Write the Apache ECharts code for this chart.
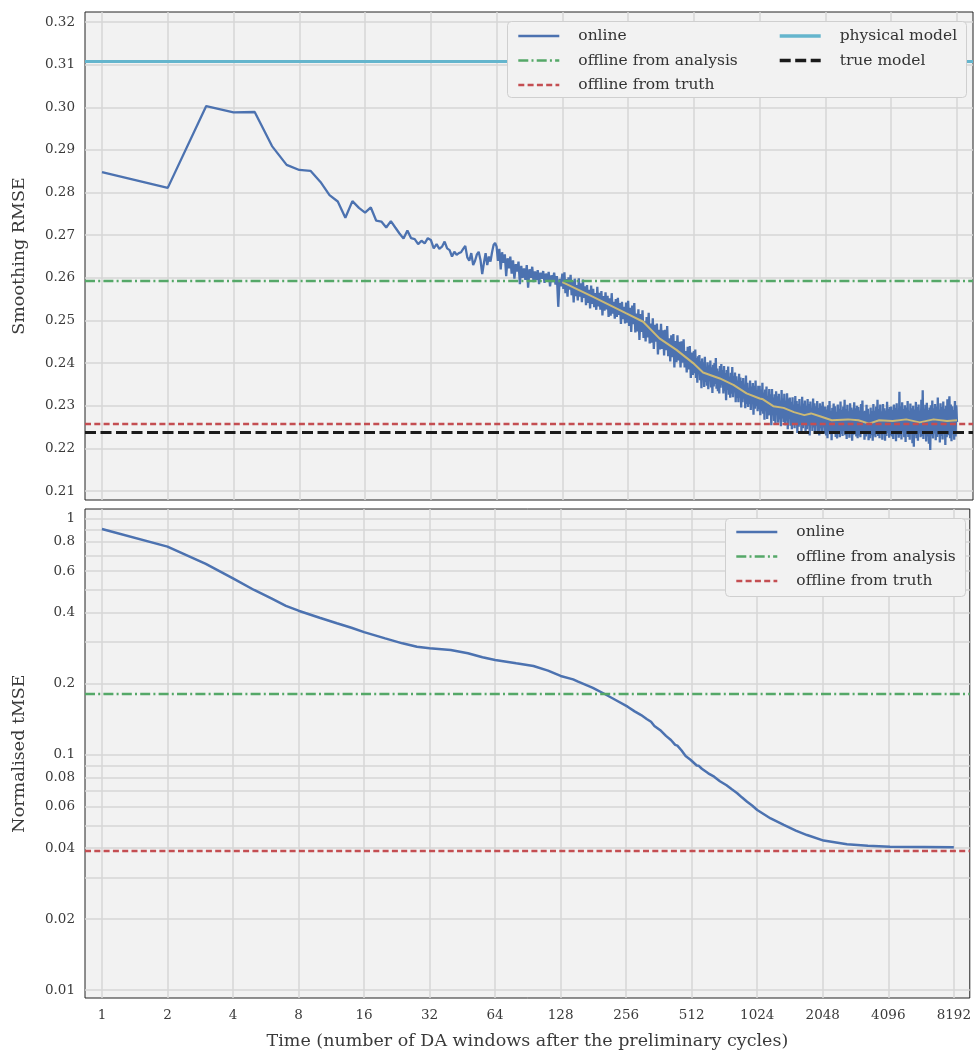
<!DOCTYPE html>
<html><head><meta charset="utf-8">
<script src="https://cdn.jsdelivr.net/npm/echarts@6/dist/echarts.min.js"></script>
<style>html,body{margin:0;padding:0;background:#fff}#chart{width:974px;height:1052px}</style>
</head><body><div id="chart"></div>
<script>
// ---------- DATA ----------
const xTicks = [1, 2, 4, 8, 16, 32, 64, 128, 256, 512, 1024, 2048, 4096, 8192];
const rmseTicks = [0.21, 0.22, 0.23, 0.24, 0.25, 0.26, 0.27, 0.28, 0.29, 0.30, 0.31, 0.32];
const tmseGridValues = [1, 0.9, 0.8, 0.7, 0.6, 0.5, 0.4, 0.3, 0.2, 0.1, 0.09, 0.08, 0.07, 0.06, 0.05, 0.04, 0.03, 0.02, 0.01];
const tmseTickLabels = [1, 0.8, 0.6, 0.4, 0.2, 0.1, 0.08, 0.06, 0.04, 0.02, 0.01];

// reference levels
const rmsePhysicalModel = 0.3108;
const rmseOfflineAnalysis = 0.2593;
const rmseOfflineTruth = 0.2257;
const rmseTrueModel = 0.2237;
const tmseOfflineAnalysis = 0.1813;
const tmseOfflineTruth = 0.0392;

// online smoothing RMSE, windows 1..63
const earlyWindows = [1,2,3,4,5,6,7,8,9,10,11,12,13,14,15,16,17,18,19,20,21,22,23,24,25,26,27,28,29,30,31,32,33,34,35,36,37,38,39,40,41,42,43,44,45,46,47,48,49,50,51,52,53,54,55,56,57,58,59,60,61,62,63];
const rmseEarly = [0.2848,0.2811,0.3003,0.2988,0.2989,0.2909,0.2865,0.2853,0.2851,0.2825,0.2794,0.2779,0.2741,0.2780,0.2764,0.2753,0.2765,0.2734,0.2732,0.2718,0.2733,0.2718,0.2704,0.2692,0.2711,0.2693,0.2691,0.2679,0.2687,0.2681,0.2693,0.2689,0.2669,0.2679,0.2668,0.2673,0.2685,0.2669,0.2665,0.2650,0.2661,0.2654,0.2658,0.2660,0.2668,0.2675,0.2648,0.2640,0.2658,0.2630,0.2640,0.2655,0.2661,0.2642,0.2609,0.2635,0.2658,0.2630,0.2650,0.2638,0.2660,0.2677,0.2682];

// online smoothing RMSE, per octave (samples evenly spaced in log time within each octave)
const octaveStarts = [64, 128, 256, 512, 1024, 2048, 4096];
const rmseOct6 = [0.2673,0.2640,0.2668,0.2620,0.2660,0.2635,0.2655,0.2604,0.2646,0.2622,0.2650,0.2610,0.2641,0.2598,0.2632,0.2615,0.2638,0.2585,0.2628,0.2600,0.2622,0.2595,0.2630,0.2577,0.2620,0.2600,0.2626,0.2590,0.2615,0.2595,0.2618,0.2585,0.2612,0.2598,0.2616,0.2588,0.2610,0.2592,0.2614,0.2580,0.2606,0.2590,0.2612,0.2584,0.2604,0.2532,0.2598,0.2580];
const rmseOct7 = [0.2610,0.2574,0.2613,0.2564,0.2597,0.2556,0.2601,0.2572,0.2607,0.2559,0.2593,0.2542,0.2598,0.2557,0.2583,0.2547,0.2599,0.2556,0.2587,0.2543,0.2596,0.2553,0.2580,0.2536,0.2583,0.2541,0.2572,0.2528,0.2582,0.2539,0.2574,0.2531,0.2564,0.2525,0.2579,0.2533,0.2565,0.2525,0.2569,0.2512,0.2557,0.2523,0.2566,0.2526,0.2558,0.2508,0.2552,0.2511,0.2564,0.2516,0.2544,0.2504,0.2550,0.2508,0.2553,0.2513,0.2541,0.2492,0.2544,0.2503,0.2532,0.2493,0.2542,0.2495];
const rmseOct8 = [0.2546,0.2487,0.2530,0.2473,0.2535,0.2491,0.2541,0.2472,0.2516,0.2474,0.2526,0.2454,0.2515,0.2473,0.2524,0.2459,0.2498,0.2451,0.2508,0.2460,0.2518,0.2446,0.2493,0.2448,0.2505,0.2433,0.2490,0.2450,0.2493,0.2420,0.2478,0.2432,0.2492,0.2433,0.2477,0.2418,0.2478,0.2430,0.2487,0.2416,0.2458,0.2404,0.2465,0.2414,0.2468,0.2390,0.2452,0.2402,0.2465,0.2406,0.2450,0.2390,0.2451,0.2401,0.2456,0.2390,0.2428,0.2378,0.2438,0.2385,0.2440,0.2365,0.2425,0.2372];
const rmseOct9 = [0.2428,0.2376,0.2432,0.2365,0.2412,0.2354,0.2416,0.2374,0.2419,0.2360,0.2404,0.2341,0.2411,0.2362,0.2402,0.2344,0.2415,0.2356,0.2391,0.2347,0.2402,0.2339,0.2395,0.2361,0.2406,0.2343,0.2390,0.2330,0.2396,0.2345,0.2400,0.2351,0.2412,0.2340,0.2387,0.2334,0.2381,0.2329,0.2393,0.2342,0.2398,0.2348,0.2384,0.2329,0.2393,0.2334,0.2377,0.2313,0.2384,0.2337,0.2392,0.2326,0.2368,0.2319,0.2377,0.2328,0.2391,0.2320,0.2369,0.2332,0.2378,0.2308,0.2369,0.2318,0.2359,0.2308,0.2375,0.2319,0.2366,0.2296,0.2358,0.2308,0.2365,0.2317,0.2350,0.2294,0.2371,0.2304,0.2354,0.2297,0.2342,0.2304,0.2359,0.2290,0.2345,0.2306,0.2353,0.2279,0.2347,0.2293,0.2359,0.2299,0.2337,0.2287,0.2347,0.2292];
const rmseOct10 = [0.2347,0.2278,0.2338,0.2287,0.2354,0.2281,0.2331,0.2267,0.2338,0.2287,0.2345,0.2269,0.2323,0.2277,0.2339,0.2279,0.2327,0.2254,0.2339,0.2278,0.2319,0.2264,0.2327,0.2257,0.2334,0.2280,0.2322,0.2260,0.2328,0.2268,0.2312,0.2252,0.2337,0.2270,0.2317,0.2262,0.2328,0.2254,0.2312,0.2265,0.2329,0.2245,0.2317,0.2270,0.2319,0.2253,0.2309,0.2245,0.2320,0.2257,0.2302,0.2247,0.2323,0.2260,0.2311,0.2236,0.2304,0.2251,0.2316,0.2255,0.2298,0.2240,0.2321,0.2247,0.2305,0.2259,0.2312,0.2236,0.2300,0.2245,0.2316,0.2253,0.2304,0.2230,0.2310,0.2257,0.2295,0.2241,0.2317,0.2249,0.2306,0.2237,0.2299,0.2253,0.2311,0.2238,0.2295,0.2230,0.2306,0.2247,0.2300,0.2237,0.2309,0.2249,0.2298,0.2235];
const rmseOct11 = [0.2298,0.2230,0.2291,0.2224,0.2301,0.2238,0.2311,0.2233,0.2288,0.2219,0.2295,0.2235,0.2305,0.2241,0.2299,0.2227,0.2286,0.2223,0.2303,0.2236,0.2293,0.2226,0.2310,0.2234,0.2290,0.2229,0.2298,0.2240,0.2314,0.2231,0.2292,0.2222,0.2302,0.2237,0.2287,0.2225,0.2306,0.2235,0.2296,0.2218,0.2291,0.2232,0.2308,0.2236,0.2294,0.2228,0.2300,0.2224,0.2297,0.2230,0.2289,0.2226,0.2304,0.2241,0.2312,0.2234,0.2287,0.2220,0.2288,0.2228,0.2302,0.2233,0.2293,0.2219,0.2280,0.2224,0.2296,0.2231,0.2287,0.2218,0.2304,0.2230,0.2288,0.2226,0.2298,0.2238,0.2314,0.2229,0.2292,0.2224,0.2303,0.2235,0.2287,0.2220,0.2304,0.2233,0.2294,0.2218,0.2289,0.2229,0.2309,0.2236,0.2292,0.2225,0.2297,0.2231];
const rmseOct12 = [0.2298,0.2228,0.2290,0.2222,0.2303,0.2236,0.2295,0.2217,0.2306,0.2232,0.2289,0.2225,0.2333,0.2230,0.2299,0.2221,0.2308,0.2238,0.2292,0.2226,0.2301,0.2215,0.2296,0.2234,0.2311,0.2227,0.2288,0.2220,0.2305,0.2237,0.2294,0.2212,0.2300,0.2204,0.2291,0.2231,0.2309,0.2224,0.2297,0.2218,0.2303,0.2235,0.2289,0.2226,0.2314,0.2229,0.2336,0.2222,0.2293,0.2233,0.2302,0.2216,0.2307,0.2228,0.2290,0.2211,0.2296,0.2196,0.2301,0.2230,0.2312,0.2223,0.2294,0.2235,0.2304,0.2219,0.2298,0.2227,0.2319,0.2232,0.2291,0.2214,0.2306,0.2229,0.2297,0.2221,0.2310,0.2236,0.2293,0.2208,0.2300,0.2226,0.2315,0.2231,0.2296,0.2322,0.2224,0.2303,0.2217,0.2299,0.2233,0.2290,0.2220,0.2311,0.2228,0.2301];
const lastWindow = 8192;
const rmseLast = 0.2262;

// running mean of the online RMSE
const meanWindows = [128,176,250,300,356,426,508,564,673,776,892,1024,1060,1182,1318,1470,1640,1760,1963,2190,2600,2900,3240,3610,4160,4800,5530,6400,7370,8192];
const rmseMean = [0.2590,0.2556,0.2517,0.2497,0.2458,0.2431,0.2400,0.2378,0.2364,0.2349,0.2329,0.2317,0.2315,0.2299,0.2295,0.2285,0.2278,0.2282,0.2274,0.2266,0.2268,0.2266,0.2258,0.2266,0.2264,0.2268,0.2261,0.2268,0.2264,0.2266];

// online normalised tMSE
const tmseWindows = [1,2,3,4,5,6,7,8,10,12,14,16,20,24,28,32,40,48,56,64,80,96,112,128,146,154,180,204,230,260,280,300,318,333,345,352,370,390,398,411,430,440,460,480,490,507,540,552,570,610,620,649,690,700,740,780,795,829,870,885,920,970,1024,1180,1356,1540,1734,2067,2646,3300,4170,6000,8192];
const tmseOnline = [0.907,0.763,0.645,0.560,0.4995,0.460,0.428,0.408,0.381,0.361,0.3455,0.331,0.3113,0.2965,0.287,0.2825,0.278,0.269,0.2586,0.252,0.2438,0.2375,0.227,0.2156,0.2085,0.2038,0.192,0.1807,0.170,0.1596,0.1525,0.147,0.1415,0.1377,0.1322,0.1334,0.126,0.1200,0.1208,0.1152,0.1098,0.1090,0.104,0.0985,0.0990,0.0948,0.0898,0.0895,0.087,0.0832,0.0836,0.0805,0.0770,0.0772,0.074,0.0713,0.0710,0.0685,0.0658,0.0656,0.063,0.0607,0.0581,0.0535,0.0502,0.0475,0.0455,0.0431,0.0416,0.0410,0.0406,0.0405,0.0404];

// ---------- BUILD ----------
const FONT = 'DejaVu Serif';
const TXT = '#3a3a3a';
const GRIDC = '#d6d6d6';
const C_BLUE = '#4c72b0', C_GREEN = '#55a868', C_RED = '#c44e52', C_CYAN = '#64b5cd', C_BLACK = '#1a1a1a', C_YEL = '#ccb974';
const DASHDOT = [10, 3.2, 2, 3.2], DASH_R = [6, 3.3], DASH_K = [11, 4.5];

const onlineTop = [];
earlyWindows.forEach((t, i) => onlineTop.push([t, rmseEarly[i]]));
[rmseOct6, rmseOct7, rmseOct8, rmseOct9, rmseOct10, rmseOct11, rmseOct12].forEach((arr, k) => {
  arr.forEach((v, i) => onlineTop.push([octaveStarts[k] * Math.pow(2, i / arr.length), v]));
});
onlineTop.push([lastWindow, rmseLast]);
const meanTop = meanWindows.map((t, i) => [t, rmseMean[i]]);
const onlineBottom = tmseWindows.map((t, i) => [t, tmseOnline[i]]);

function refLine(name, value, color, width, type, gi) {
  return {
    name, type: 'line', xAxisIndex: gi, yAxisIndex: gi, data: [], symbol: 'none',
    color, lineStyle: { color, width, type }, z: 4,
    markLine: { silent: true, symbol: ['none', 'none'], precision: 6, label: { show: false },
      lineStyle: { color, width, type }, emphasis: { disabled: true },
      data: [{ yAxis: value }], animation: false }
  };
}

const X_MIN = 0.836, X_MAX = 9700;
function xAxis(gi, showLabels) {
  return {
    type: 'log', logBase: 2, gridIndex: gi, min: X_MIN, max: X_MAX,
    axisLine: { show: false }, axisTick: { show: false, customValues: xTicks },
    axisLabel: { show: showLabels, customValues: xTicks, formatter: v => String(Math.round(v)),
      fontFamily: FONT, fontSize: 13.5, color: TXT, margin: 10 },
    splitLine: { show: true, lineStyle: { color: GRIDC, width: 1.5 } },
    name: showLabels ? 'Time (number of DA windows after the preliminary cycles)' : '',
    nameLocation: 'middle', nameGap: 34,
    nameTextStyle: { fontFamily: FONT, fontSize: 17.5, color: TXT }
  };
}
const legendText = { fontFamily: FONT, fontSize: 15.5, color: '#333', padding: [0, 0, 0, 14] };
const LW = { 'online': 2.6, 'offline from analysis': 2.4, 'offline from truth': 2.4, 'physical model': 3.4, 'true model': 3.4 };
function legend(names, left, top) {
  return { data: names.map(n => ({ name: n, lineStyle: { width: LW[n] } })), left, top, orient: 'vertical',
    itemWidth: 41, itemHeight: 14, itemGap: 8.5, padding: 0, selectedMode: false,
    textStyle: legendText, itemStyle: { opacity: 0 }, z: 20 };
}

const option = {
  animation: false,
  backgroundColor: '#ffffff',
  grid: [
    { left: 85, right: 1, top: 12, height: 488, show: true, backgroundColor: '#f2f2f2', borderColor: '#222', borderWidth: 1 },
    { left: 85, right: 1, top: 509, height: 489, show: true, backgroundColor: '#f2f2f2', borderColor: '#222', borderWidth: 1 }
  ],
  xAxis: [xAxis(0, false), xAxis(1, true)],
  yAxis: [
    { type: 'value', gridIndex: 0, min: 0.20789, max: 0.32235,
      axisLine: { show: false }, axisTick: { show: false, customValues: rmseTicks },
      axisLabel: { customValues: rmseTicks, formatter: v => v.toFixed(2), fontFamily: FONT, fontSize: 13.5, color: TXT, margin: 10 },
      splitLine: { show: true, lineStyle: { color: GRIDC, width: 1.5 } },
      name: 'Smoothing RMSE', nameLocation: 'middle', nameGap: 57,
      nameTextStyle: { fontFamily: FONT, fontSize: 17.5, color: TXT } },
    { type: 'log', logBase: 10, gridIndex: 1, min: 0.009248, max: 1.1027,
      axisLine: { show: false }, axisTick: { show: false, customValues: tmseGridValues },
      axisLabel: { customValues: tmseTickLabels, formatter: v => String(+Number(v).toPrecision(3)), fontFamily: FONT, fontSize: 13.5, color: TXT, margin: 10 },
      splitLine: { show: true, lineStyle: { color: GRIDC, width: 1.5 } },
      name: 'Normalised tMSE', nameLocation: 'middle', nameGap: 57,
      nameTextStyle: { fontFamily: FONT, fontSize: 17.5, color: TXT } }
  ],
  legend: [
    legend(['online', 'offline from analysis', 'offline from truth'], 517, 28),
    legend(['physical model', 'true model'], 778, 28),
    legend(['online', 'offline from analysis', 'offline from truth'], 735, 524)
  ],
  graphic: [
    { type: 'rect', left: 507, top: 21, z: 10, silent: true, shape: { width: 459, height: 76, r: 4 }, style: { fill: '#f2f2f2', stroke: '#cfcfcf', lineWidth: 1 } },
    { type: 'rect', left: 725, top: 518, z: 10, silent: true, shape: { width: 240, height: 78, r: 4 }, style: { fill: '#f2f2f2', stroke: '#cfcfcf', lineWidth: 1 } }
  ],
  series: [
    { name: 'online', type: 'line', xAxisIndex: 0, yAxisIndex: 0, data: onlineTop, symbol: 'none', color: C_BLUE,
      lineStyle: { color: C_BLUE, width: 2.3 }, z: 2, sampling: null },
    { name: 'running mean', type: 'line', xAxisIndex: 0, yAxisIndex: 0, data: meanTop, symbol: 'none', color: C_YEL,
      lineStyle: { color: C_YEL, width: 2 }, z: 3 },
    refLine('offline from analysis', rmseOfflineAnalysis, C_GREEN, 2.3, DASHDOT, 0),
    refLine('offline from truth', rmseOfflineTruth, C_RED, 2.3, DASH_R, 0),
    refLine('physical model', rmsePhysicalModel, C_CYAN, 3.2, 'solid', 0),
    refLine('true model', rmseTrueModel, C_BLACK, 3.2, DASH_K, 0),
    { name: 'online', type: 'line', xAxisIndex: 1, yAxisIndex: 1, data: onlineBottom, symbol: 'none', color: C_BLUE,
      lineStyle: { color: C_BLUE, width: 2.5 }, z: 2 },
    refLine('offline from analysis', tmseOfflineAnalysis, C_GREEN, 2.3, DASHDOT, 1),
    refLine('offline from truth', tmseOfflineTruth, C_RED, 2.3, DASH_R, 1)
  ]
};
const chart = echarts.init(document.getElementById('chart'), null, { renderer: 'canvas' });
chart.setOption(option);
</script></body></html>
